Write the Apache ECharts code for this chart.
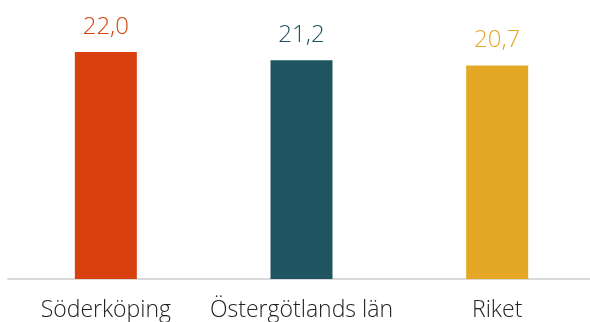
<!DOCTYPE html>
<html>
<head>
<meta charset="utf-8">
<script src="https://cdn.jsdelivr.net/npm/echarts@6/dist/echarts.min.js"></script>
<style>
html,body{margin:0;padding:0;background:#fff;overflow:hidden;}
#c{width:600px;height:322px;}
</style>
</head>
<body>
<div id="c"></div>
<script>
var categories = ["Söderköping", "Östergötlands län", "Riket"];
var values = [22.0, 21.2, 20.7];
var colors = ["#D8400F", "#1F5561", "#E4A826"];

var chart = echarts.init(document.getElementById('c'), null, {renderer: 'canvas'});
chart.setOption({
  animation: false,
  grid: {left: 8, top: 21, width: 587, height: 258},
  xAxis: {
    type: 'category',
    data: categories,
    axisLine: {show: true, lineStyle: {color: '#d9d9d9', width: 2}},
    axisTick: {show: false},
    axisLabel: {interval: 0, color: '#222', fontSize: 23, fontFamily: 'Open Sans', fontWeight: 300, margin: 20}
  },
  yAxis: {
    type: 'value', min: 0, max: 25,
    show: false,
    splitLine: {show: false}
  },
  series: [{
    type: 'bar',
    barWidth: 62,
    data: values.map(function(v, i){
      return {value: v, itemStyle: {color: colors[i]}, label: {color: colors[i]}};
    }),
    label: {
      show: true, position: 'top', distance: 13,
      fontSize: 24, fontFamily: 'Open Sans', fontWeight: 300,
      formatter: function(p){ return p.value.toFixed(1).replace('.', ','); }
    }
  }]
});
</script>
</body>
</html>
